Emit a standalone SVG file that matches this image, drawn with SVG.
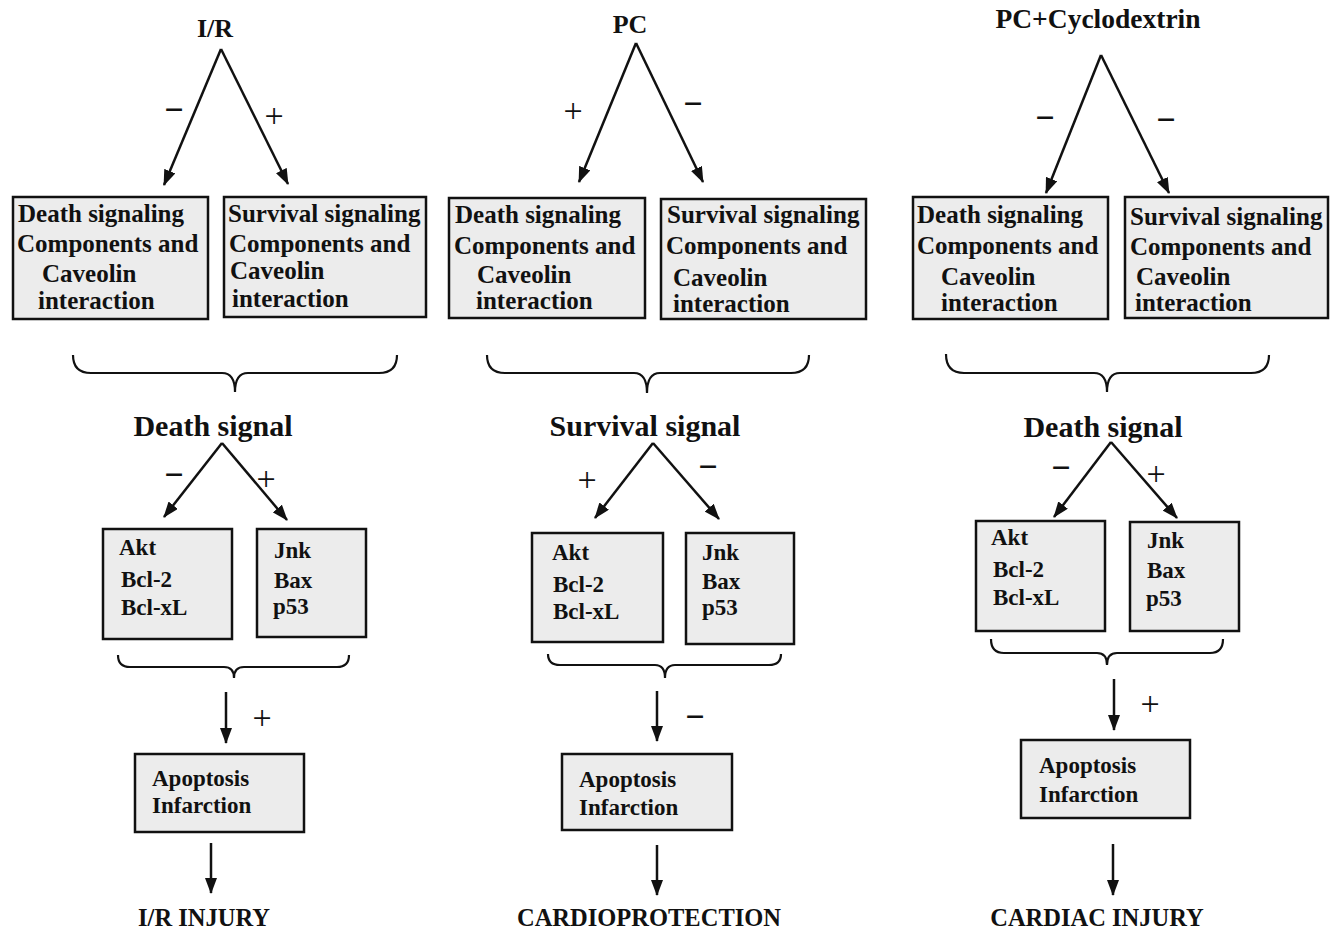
<svg xmlns="http://www.w3.org/2000/svg" width="1334" height="929" viewBox="0 0 1334 929">
<style>
text{font-family:"Liberation Serif","Times New Roman",serif;font-weight:bold;fill:#111}
.title{font-size:26px}
.sig{font-size:30px}
.big{font-size:25px}
.mid{font-size:23px}
.out{font-size:24.5px}
.pm{font-size:34px;font-weight:normal;text-anchor:middle}
.mn{font-size:34px;font-weight:bold;text-anchor:middle}
.box{fill:#ececec;stroke:#111;stroke-width:2.5}
.arr{fill:none;stroke:#111;stroke-width:2.5;marker-end:url(#ah)}
.brace{fill:none;stroke:#111;stroke-width:2.2}
.c{text-anchor:middle}
</style>
<defs>
<marker id="ah" markerWidth="16" markerHeight="12" refX="15" refY="6" orient="auto" markerUnits="userSpaceOnUse">
<path d="M0,0 L16,6 L0,12 Z" fill="#111"/>
</marker>
</defs>
<rect width="1334" height="929" fill="#fff"/>

<!-- Column 1: I/R -->
<g id="title-ir"><text class="title c" x="215" y="37">I/R</text></g>
<g id="ir-death-box">
<rect class="box" x="13" y="197" width="195" height="122"/>
<text class="big" x="18" y="222">Death signaling</text>
<text class="big" x="17" y="252">Components and</text>
<text class="big" x="42" y="282">Caveolin</text>
<text class="big" x="38" y="309">interaction</text>
</g>
<g id="ir-survival-box">
<rect class="box" x="224" y="197" width="202" height="120"/>
<text class="big" x="228" y="222">Survival signaling</text>
<text class="big" x="229" y="252">Components and</text>
<text class="big" x="230" y="279">Caveolin</text>
<text class="big" x="232" y="307">interaction</text>
</g>
<g id="ir-death-signal"><text class="sig c" x="213" y="436">Death signal</text></g>
<g id="ir-akt-box">
<rect class="box" x="103" y="529" width="129" height="110"/>
<text class="mid" x="119" y="555">Akt</text>
<text class="mid" x="121" y="587">Bcl-2</text>
<text class="mid" x="121" y="615">Bcl-xL</text>
</g>
<g id="ir-jnk-box">
<rect class="box" x="257" y="529" width="109" height="108"/>
<text class="mid" x="274" y="558">Jnk</text>
<text class="mid" x="274" y="588">Bax</text>
<text class="mid" x="273" y="614">p53</text>
</g>
<g id="ir-apoptosis-box">
<rect class="box" x="135" y="754" width="169" height="78"/>
<text class="mid" x="152" y="786">Apoptosis</text>
<text class="mid" x="152" y="813">Infarction</text>
</g>
<g id="ir-outcome"><text class="out c" x="204" y="926">I/R INJURY</text></g>

<!-- Column 2: PC -->
<g id="title-pc"><text class="title c" x="630" y="33">PC</text></g>
<g id="pc-death-box">
<rect class="box" x="449" y="198" width="196" height="120"/>
<text class="big" x="455" y="223">Death signaling</text>
<text class="big" x="454" y="254">Components and</text>
<text class="big" x="477" y="283">Caveolin</text>
<text class="big" x="476" y="309">interaction</text>
</g>
<g id="pc-survival-box">
<rect class="box" x="661" y="199" width="205" height="120"/>
<text class="big" x="667" y="223">Survival signaling</text>
<text class="big" x="666" y="254">Components and</text>
<text class="big" x="673" y="286">Caveolin</text>
<text class="big" x="673" y="312">interaction</text>
</g>
<g id="pc-survival-signal"><text class="sig c" x="645" y="436">Survival signal</text></g>
<g id="pc-akt-box">
<rect class="box" x="532" y="533" width="131" height="109"/>
<text class="mid" x="552" y="560">Akt</text>
<text class="mid" x="553" y="592">Bcl-2</text>
<text class="mid" x="553" y="619">Bcl-xL</text>
</g>
<g id="pc-jnk-box">
<rect class="box" x="686" y="533" width="108" height="111"/>
<text class="mid" x="702" y="560">Jnk</text>
<text class="mid" x="702" y="589">Bax</text>
<text class="mid" x="702" y="615">p53</text>
</g>
<g id="pc-apoptosis-box">
<rect class="box" x="562" y="754" width="170" height="76"/>
<text class="mid" x="579" y="787">Apoptosis</text>
<text class="mid" x="579" y="815">Infarction</text>
</g>
<g id="pc-outcome"><text class="out c" x="649" y="926">CARDIOPROTECTION</text></g>

<!-- Column 3: PC+Cyclodextrin -->
<g id="title-pccd"><text class="title c" x="1098" y="28" style="font-size:27.5px">PC+Cyclodextrin</text></g>
<g id="pccd-death-box">
<rect class="box" x="913" y="197" width="195" height="122"/>
<text class="big" x="917" y="223">Death signaling</text>
<text class="big" x="917" y="254">Components and</text>
<text class="big" x="941" y="285">Caveolin</text>
<text class="big" x="941" y="311">interaction</text>
</g>
<g id="pccd-survival-box">
<rect class="box" x="1125" y="197" width="203" height="121"/>
<text class="big" x="1130" y="225">Survival signaling</text>
<text class="big" x="1130" y="255">Components and</text>
<text class="big" x="1136" y="285">Caveolin</text>
<text class="big" x="1135" y="311">interaction</text>
</g>
<g id="pccd-death-signal"><text class="sig c" x="1103" y="437">Death signal</text></g>
<g id="pccd-akt-box">
<rect class="box" x="976" y="521" width="129" height="110"/>
<text class="mid" x="991" y="545">Akt</text>
<text class="mid" x="993" y="577">Bcl-2</text>
<text class="mid" x="993" y="605">Bcl-xL</text>
</g>
<g id="pccd-jnk-box">
<rect class="box" x="1130" y="522" width="109" height="109"/>
<text class="mid" x="1147" y="548">Jnk</text>
<text class="mid" x="1147" y="578">Bax</text>
<text class="mid" x="1146" y="606">p53</text>
</g>
<g id="pccd-apoptosis-box">
<rect class="box" x="1021" y="740" width="169" height="78"/>
<text class="mid" x="1039" y="773">Apoptosis</text>
<text class="mid" x="1039" y="802">Infarction</text>
</g>
<g id="pccd-outcome"><text class="out c" x="1097" y="926">CARDIAC INJURY</text></g>

<!-- Connectors -->
<g id="connectors">
<path class="arr" d="M221,49 L164,185"/>
<path class="arr" d="M221,49 L288,184"/>
<path class="brace" d="M73,355 Q73,373 91,373 L222,373 Q235,373 235,392 Q235,373 248,373 L379,373 Q397,373 397,355"/>
<path class="arr" d="M222,443 L164,517"/>
<path class="arr" d="M222,443 L287,520"/>
<path class="brace" d="M118,655 Q118,667 130,667 L224,667 Q234,667 234,678 Q234,667 244,667 L337,667 Q349,667 349,655"/>
<path class="arr" d="M226,692 L226,743"/>
<path class="arr" d="M211,843 L211,893"/>
<path class="arr" d="M636,43 L579,182"/>
<path class="arr" d="M636,43 L703,182"/>
<path class="brace" d="M487,355 Q487,373 505,373 L634,373 Q647,373 647,393 Q647,373 660,373 L791,373 Q809,373 809,355"/>
<path class="arr" d="M653,443 L595,518"/>
<path class="arr" d="M653,443 L719,519"/>
<path class="brace" d="M548,654 Q548,665 560,665 L655,665 Q665,665 665,678 Q665,665 675,665 L769,665 Q781,665 781,654"/>
<path class="arr" d="M657,691 L657,741"/>
<path class="arr" d="M657,845 L657,895"/>
<path class="arr" d="M1101,55 L1046,193"/>
<path class="arr" d="M1101,55 L1169,193"/>
<path class="brace" d="M946,354 Q946,373 964,373 L1094,373 Q1107,373 1107,392 Q1107,373 1120,373 L1251,373 Q1269,373 1269,355"/>
<path class="arr" d="M1111,442 L1054,517"/>
<path class="arr" d="M1111,442 L1177,518"/>
<path class="brace" d="M991,639 Q991,653 1004,653 L1097,653 Q1107,653 1107,665 Q1107,653 1117,653 L1210,653 Q1223,653 1223,639"/>
<path class="arr" d="M1114,679 L1114,730"/>
<path class="arr" d="M1113,844 L1113,895"/>
</g>

<!-- Sign labels -->
<g id="signs">
<text class="mn" x="174" y="121">−</text>
<text class="pm" x="274" y="127">+</text>
<text class="mn" x="174" y="486">−</text>
<text class="pm" x="266" y="490">+</text>
<text class="pm" x="262" y="729">+</text>
<text class="pm" x="573" y="122">+</text>
<text class="mn" x="693" y="115">−</text>
<text class="pm" x="587" y="491">+</text>
<text class="mn" x="708" y="478">−</text>
<text class="mn" x="695" y="728">−</text>
<text class="mn" x="1045" y="129">−</text>
<text class="mn" x="1166" y="131">−</text>
<text class="mn" x="1061" y="479">−</text>
<text class="pm" x="1156" y="485">+</text>
<text class="pm" x="1150" y="715">+</text>
</g>
</svg>
